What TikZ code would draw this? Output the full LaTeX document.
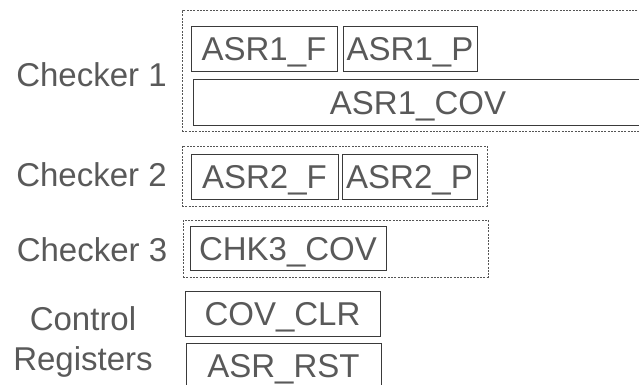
\documentclass[tikz,border=0pt]{standalone}
\usepackage{fontspec}
\setmainfont{Liberation Sans}
\definecolor{txt}{HTML}{595959}
\definecolor{edge}{HTML}{3A3A3A}
\definecolor{dash}{HTML}{555555}
\begin{document}
\begin{tikzpicture}[x=1pt,y=-1pt,
  every node/.style={font=\fontsize{33}{40}\selectfont, text=txt, inner sep=0pt},
  regbox/.style={draw=edge, line width=0.9pt, text height=24pt, text depth=0pt, minimum height=45pt},
  groupbox/.style={draw=dash, line width=1pt, dash pattern=on 2pt off 1.3pt, minimum height=#1},
  lbl/.style={text height=24pt, text depth=0pt}]
\useasboundingbox (0,0) rectangle (639,385);
\clip (0,0) rectangle (639,385);
% group boxes
\node[groupbox=120pt, minimum width=468pt] (g1) at (416,71) {};
\node[groupbox=60pt, minimum width=305pt] (g2) at (334.5,176) {};
\node[groupbox=57pt, minimum width=305pt] (g3) at (335.5,248.5) {};
% registers
\node[regbox, minimum width=146pt] (f1) at (264,49) {ASR1\_F};
\node[regbox, minimum width=134pt] (p1) at (410,49) {ASR1\_P};
\node[regbox, minimum width=450pt, minimum height=46pt] (c1) at (418,102) {ASR1\_COV};
\node[regbox, minimum width=147pt] (f2) at (264.5,176.5) {ASR2\_F};
\node[regbox, minimum width=135pt] (p2) at (409.5,176.5) {ASR2\_P};
\node[regbox, minimum width=196pt, minimum height=44pt] (c3) at (288,248) {CHK3\_COV};
\node[regbox, minimum width=195pt] (clr) at (282.5,313.5) {COV\_CLR};
\node[regbox, minimum width=195pt] (rst) at (283.5,365.5) {ASR\_RST};
% labels
\node[lbl] (l1) at (91.5,75) {Checker 1};
\node[lbl] (l2) at (91.5,174) {Checker 2};
\node[lbl] (l3) at (92,249.5) {Checker 3};
\node[align=center] (l4) at (83,341.5) {Control\\Registers};
\end{tikzpicture}
\end{document}
